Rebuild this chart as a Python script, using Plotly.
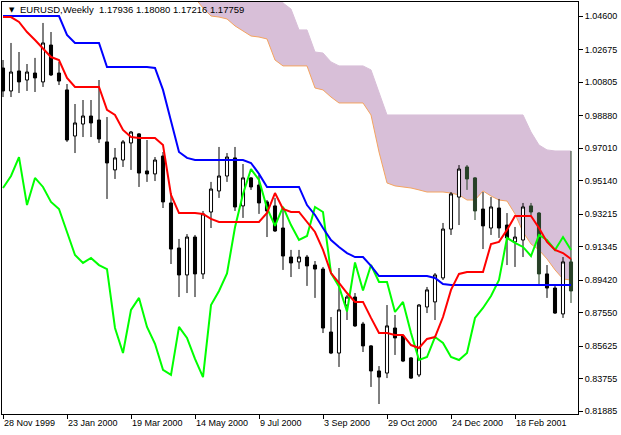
import pandas as pd
import plotly.graph_objects as go

# weekly EURUSD bars, first bar 28 Nov 1999
dates = pd.date_range("1999-11-28", periods=72, freq="7D")

opens = [1.0161, 1.0029, 1.0144, 1.0092, 1.0132, 1.0081, 1.0293, 1.0132, 1.0035, 0.9770,
         0.9839, 0.9885, 0.9862, 0.9736, 0.9575, 0.9632, 0.9730, 0.9782, 0.9569, 0.9552,
         0.9655, 0.9385, 0.9126, 0.8971, 0.9189, 0.8977, 0.9333, 0.9454, 0.9540, 0.9644,
         0.9368, 0.9529, 0.9488, 0.9391, 0.9368, 0.9241, 0.9074, 0.9046, 0.9074, 0.9028,
         0.9005, 0.8643, 0.8522, 0.8798, 0.8844, 0.8689, 0.8563, 0.8419, 0.8407, 0.8666,
         0.8620, 0.8494, 0.8396, 0.8787, 0.8816, 0.8954, 0.9235, 0.9419, 0.9592, 0.9529,
         0.9350, 0.9241, 0.9356, 0.9258, 0.9161, 0.9172, 0.9368, 0.9327, 0.8977, 0.8896,
         0.8747, 0.9046]
highs = [1.0207, 1.0305, 1.0253, 1.0184, 1.0219, 1.0420, 1.0368, 1.0196, 1.0069, 0.9954,
         0.9977, 0.9977, 1.0092, 0.9879, 0.9701, 0.9747, 0.9799, 0.9787, 0.9747, 0.9649,
         0.9678, 0.9442, 0.9178, 0.9206, 0.9201, 0.9339, 0.9506, 0.9707, 0.9672, 0.9707,
         0.9609, 0.9534, 0.9546, 0.9402, 0.9414, 0.9362, 0.9115, 0.9115, 0.9086, 0.9051,
         0.9017, 0.8729, 0.9011, 0.8856, 0.8867, 0.8701, 0.8568, 0.8447, 0.8798, 0.8741,
         0.8626, 0.8499, 0.8804, 0.8902, 0.8982, 0.9270, 0.9448, 0.9603, 0.9603, 0.9534,
         0.9448, 0.9419, 0.9408, 0.9327, 0.9247, 0.9385, 0.9385, 0.9333, 0.9028, 0.8913,
         0.9074, 0.9063]
lows = [0.9994, 0.9994, 1.0017, 1.0029, 1.0023, 1.0052, 1.0115, 1.0063, 0.9736, 0.9672,
        0.9764, 0.9764, 0.9730, 0.9408, 0.9523, 0.9592, 0.9575, 0.9477, 0.9506, 0.9511,
        0.9356, 0.9034, 0.8844, 0.8867, 0.8844, 0.8948, 0.9241, 0.9414, 0.9506, 0.9339,
        0.9299, 0.9460, 0.9322, 0.9189, 0.9218, 0.9000, 0.8959, 0.9005, 0.8908, 0.8839,
        0.8637, 0.8516, 0.8442, 0.8712, 0.8672, 0.8528, 0.8327, 0.8229, 0.8378, 0.8511,
        0.8470, 0.8373, 0.8384, 0.8752, 0.8712, 0.8942, 0.9201, 0.9258, 0.9460, 0.9287,
        0.9120, 0.9201, 0.9184, 0.9028, 0.9017, 0.9074, 0.9316, 0.8913, 0.8839, 0.8747,
        0.8724, 0.8810]
closes = [1.0029, 1.0138, 1.0081, 1.0138, 1.0104, 1.0305, 1.0121, 1.0086, 0.9747, 0.9845,
          0.9885, 0.9845, 0.9753, 0.9615, 0.9644, 0.9736, 0.9793, 0.9557, 0.9552, 0.9632,
          0.9391, 0.9120, 0.8971, 0.9189, 0.8977, 0.9322, 0.9465, 0.9540, 0.9649, 0.9362,
          0.9529, 0.9477, 0.9385, 0.9339, 0.9224, 0.9080, 0.9040, 0.9074, 0.9023, 0.9005,
          0.8666, 0.8522, 0.8770, 0.8844, 0.8678, 0.8563, 0.8419, 0.8384, 0.8678, 0.8609,
          0.8476, 0.8378, 0.8798, 0.8885, 0.8971, 0.9235, 0.9437, 0.9580, 0.9523, 0.9339,
          0.9253, 0.9362, 0.9241, 0.9184, 0.9189, 0.9362, 0.9333, 0.8977, 0.8896, 0.8752,
          0.9046, 0.8879]

# Ichimoku lines
tenkan = [1.0454, 1.0454, 1.0426, 1.0368, 1.0322, 1.0276, 1.0224, 1.0207, 1.0104, 1.0052,
          1.0052, 1.0052, 1.0052, 0.9920, 0.9891, 0.9805, 0.9764, 0.9759, 0.9759, 0.9759,
          0.9718, 0.9431, 0.9327, 0.9327, 0.9327, 0.9322, 0.9293, 0.9276, 0.9276, 0.9276,
          0.9276, 0.9276, 0.9276, 0.9327, 0.9442, 0.9350, 0.9333, 0.9333, 0.9276, 0.9218,
          0.9115, 0.8982, 0.8925, 0.8867, 0.8816, 0.8816, 0.8724, 0.8637, 0.8637, 0.8626,
          0.8626, 0.8568, 0.8551, 0.8603, 0.8614, 0.8729, 0.8885, 0.8977, 0.8988, 0.8988,
          0.8988, 0.9149, 0.9161, 0.9230, 0.9310, 0.9310, 0.9310, 0.9241, 0.9161, 0.9115,
          0.9097, 0.9063]
kijun = [1.0460, 1.0460, 1.0460, 1.0460, 1.0460, 1.0460, 1.0460, 1.0460, 1.0351, 1.0305,
         1.0305, 1.0305, 1.0305, 1.0167, 1.0167, 1.0167, 1.0167, 1.0167, 1.0167, 1.0161,
         1.0035, 0.9856, 0.9678, 0.9644, 0.9632, 0.9632, 0.9632, 0.9632, 0.9632, 0.9632,
         0.9632, 0.9615, 0.9552, 0.9477, 0.9477, 0.9477, 0.9477, 0.9477, 0.9373, 0.9316,
         0.9241, 0.9172, 0.9132, 0.9097, 0.9074, 0.9074, 0.9023, 0.8965, 0.8965, 0.8965,
         0.8965, 0.8965, 0.8965, 0.8965, 0.8954, 0.8919, 0.8913, 0.8913, 0.8913, 0.8913,
         0.8913, 0.8913, 0.8913, 0.8913, 0.8913, 0.8913, 0.8913, 0.8913, 0.8913, 0.8913,
         0.8913, 0.8913]
chikou = [0.9471, 0.9540, 0.9649, 0.9373, 0.9529, 0.9477, 0.9391, 0.9350, 0.9218, 0.9086,
          0.9040, 0.9069, 0.9028, 0.9005, 0.8666, 0.8522, 0.8770, 0.8839, 0.8672, 0.8575,
          0.8425, 0.8396, 0.8672, 0.8609, 0.8488, 0.8384, 0.8798, 0.8879, 0.8980, 0.9245,
          0.9437, 0.9580, 0.9517, 0.9356, 0.9253, 0.9362, 0.9258, 0.9172, 0.9195, 0.9362,
          0.9333, 0.8982, 0.8905, 0.8761, 0.9043, 0.8882, 0.9028, 0.8931, 0.8931, 0.8758,
          0.8816, 0.8637, 0.8482, 0.8499, 0.8614, 0.8580, 0.8499, 0.8482, 0.8522, 0.8724,
          0.8781, 0.8850, 0.8942, 0.9184, 0.9155, 0.9132, 0.9080, 0.9201, 0.9172, 0.9115,
          0.9189, 0.9115]
# cloud edges (first bars lie above the visible range)
span_a = [None] * 24 + [
    1.0563, 1.0506, 1.0460, 1.0454, 1.0443, 1.0403, 1.0374, 1.0345, 1.0339, 1.0328,
    1.0207, 1.0173, 1.0173, 1.0173, 1.0173, 1.0046, 1.0035, 0.9994, 0.9960, 0.9960,
    0.9960, 0.9960, 0.9891, 0.9678, 0.9500, 0.9483, 0.9477, 0.9471, 0.9460, 0.9448,
    0.9448, 0.9448, 0.9442, 0.9431, 0.9402, 0.9402, 0.9454, 0.9425, 0.9402, 0.9396,
    0.9322, 0.9218, 0.9149, 0.9115, 0.9063, 0.9000, 0.8948, 0.8942]
span_b = [None] * 24 + [
    1.0610, 1.0610, 1.0610, 1.0610, 1.0610, 1.0610, 1.0610, 1.0610, 1.0610, 1.0610,
    1.0610, 1.0535, 1.0500, 1.0380, 1.0380, 1.0253, 1.0247, 1.0196, 1.0173, 1.0173,
    1.0173, 1.0173, 1.0150, 1.0023, 0.9891, 0.9891, 0.9891, 0.9891, 0.9891, 0.9891,
    0.9891, 0.9891, 0.9891, 0.9891, 0.9891, 0.9891, 0.9891, 0.9891, 0.9891, 0.9891,
    0.9891, 0.9891, 0.9793, 0.9718, 0.9690, 0.9684, 0.9684, 0.9684]

price_ticks = [1.04600, 1.02675, 1.00805, 0.98880, 0.97010, 0.95140, 0.93215,
               0.91345, 0.89420, 0.87550, 0.85625, 0.83755, 0.81885]
date_labels = ["28 Nov 1999", "23 Jan 2000", "19 Mar 2000", "14 May 2000", "9 Jul 2000",
               "3 Sep 2000", "29 Oct 2000", "24 Dec 2000", "18 Feb 2001"]
header = "EURUSD,Weekly\u00a0\u00a01.17936 1.18080 1.17216 1.17759"

df = pd.DataFrame({"date": dates, "open": opens, "high": highs, "low": lows, "close": closes,
                   "span_a": span_a, "span_b": span_b})
cloud = df.dropna(subset=["span_a"])

# bear candles sitting inside the cloud come out dark green in MT4
mid = (df["open"] + df["close"]) / 2
dark = (df["close"] < df["open"]) & (mid > df["span_a"])
plain = df[~dark]
green = df[dark]

font = "Tahoma, Liberation Sans, Arial, sans-serif"
x_range = [dates[0] - pd.Timedelta(hours=21), dates[-1] + pd.Timedelta(hours=147)]
y_range = [0.81715, 1.05405]

fig = go.Figure()

# cloud on the base axes so it stays under the candles
fig.add_trace(go.Scatter(x=cloud["date"], y=cloud["span_b"], mode="lines",
                         line=dict(color="#d8bfd8", width=1)))
fig.add_trace(go.Scatter(x=cloud["date"], y=cloud["span_a"], mode="lines",
                         line=dict(color="#f4a460", width=1),
                         fill="tonexty", fillcolor="#d8bfd8"))
fig.add_trace(go.Scatter(x=[dates[-1], dates[-1]], y=[span_b[-1], span_a[-1]], mode="lines",
                         line=dict(color="#274027", width=1)))

fig.add_trace(go.Candlestick(x=plain["date"], open=plain["open"], high=plain["high"],
                             low=plain["low"], close=plain["close"], xaxis="x2", yaxis="y2",
                             increasing=dict(line=dict(color="black", width=1), fillcolor="white"),
                             decreasing=dict(line=dict(color="black", width=1), fillcolor="black")))
fig.add_trace(go.Candlestick(x=green["date"], open=green["open"], high=green["high"],
                             low=green["low"], close=green["close"], xaxis="x2", yaxis="y2",
                             increasing=dict(line=dict(color="#274027", width=1), fillcolor="white"),
                             decreasing=dict(line=dict(color="#274027", width=1), fillcolor="#274027")))

fig.add_trace(go.Scatter(x=dates, y=chikou, mode="lines", line=dict(color="#00ff00", width=2),
                         xaxis="x2", yaxis="y2"))
fig.add_trace(go.Scatter(x=dates, y=kijun, mode="lines", line=dict(color="#0000ff", width=2),
                         xaxis="x2", yaxis="y2"))
fig.add_trace(go.Scatter(x=dates, y=tenkan, mode="lines", line=dict(color="#ff0000", width=2),
                         xaxis="x2", yaxis="y2"))

fig.add_annotation(x=5 / 576, y=(414 - 10) / 412, xref="paper", yref="paper", text="\u25bc",
                   showarrow=False, xanchor="left", yanchor="middle",
                   font=dict(family="DejaVu Sans", size=7, color="black"))
fig.add_annotation(x=16 / 576, y=(414 - 10) / 412, xref="paper", yref="paper", text=header,
                   showarrow=False, xanchor="left", yanchor="middle",
                   font=dict(family=font, size=9.5, color="black"))

fig.update_layout(
    width=621, height=435,
    margin=dict(l=2, r=43, t=2, b=21, autoexpand=False),
    paper_bgcolor="white", plot_bgcolor="white",
    showlegend=False, boxgap=0.45,
    xaxis=dict(type="date", range=x_range, tickvals=dates[::8][:9], ticktext=date_labels,
               ticks="outside", ticklen=4, tickcolor="black", ticklabelposition="outside right",
               showline=True, linecolor="black", linewidth=1, mirror=True,
               showgrid=False, zeroline=False, rangeslider=dict(visible=False),
               tickfont=dict(family=font, size=9, color="black")),
    yaxis=dict(side="right", range=y_range, tickvals=price_ticks, tickformat=".5f",
               ticks="outside", ticklen=4, tickcolor="black",
               showline=True, linecolor="black", linewidth=1, mirror=True,
               showgrid=False, zeroline=False,
               tickfont=dict(family=font, size=9, color="black")),
    xaxis2=dict(type="date", range=x_range, overlaying="x", anchor="y2", visible=False,
                rangeslider=dict(visible=False)),
    yaxis2=dict(range=y_range, overlaying="y", anchor="x2", side="right", visible=False),
)

# page has a default body margin; drop it so the chart sits at the window corner
fig.write_html("out.html", config={"displayModeBar": False},
               post_script="document.body.style.margin='0';")
